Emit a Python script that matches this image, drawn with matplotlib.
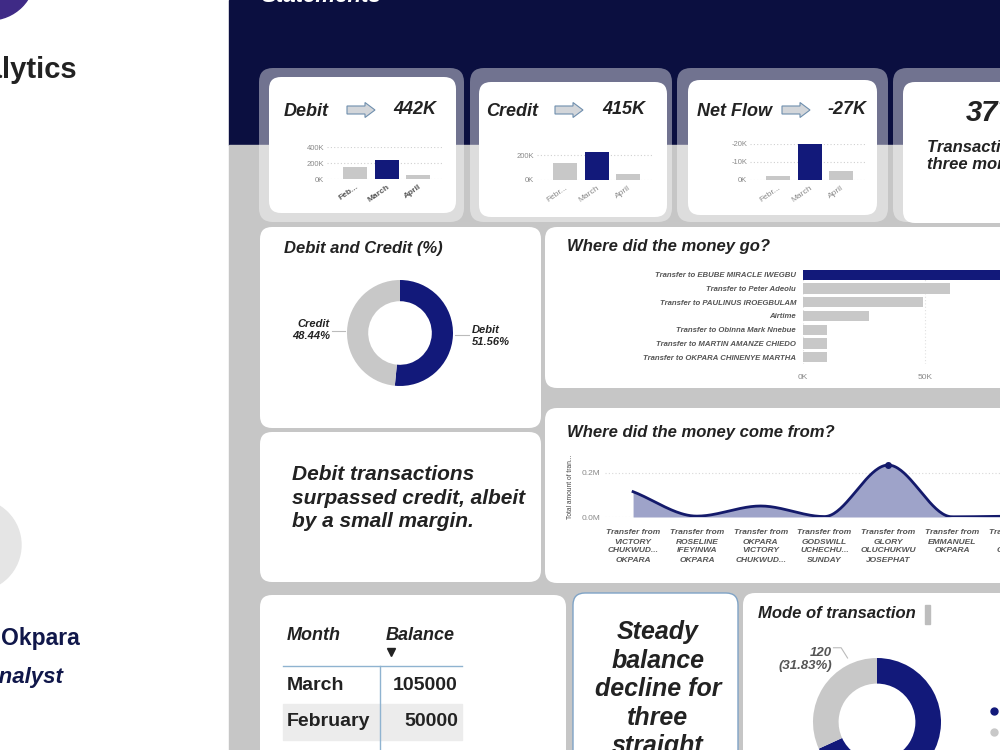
import numpy as np
import matplotlib.pyplot as plt
from matplotlib.patches import FancyBboxPatch, Rectangle, Circle, FancyArrow
from matplotlib.lines import Line2D
from matplotlib.ticker import FuncFormatter

plt.rcParams['font.family'] = ['Liberation Sans', 'DejaVu Sans']

NAVY = '#12197a'
BAND = '#0b0f40'
GREY_BAR = '#c8c8c8'
BG_GREY = '#c6c6c6'
TXT = '#222222'
TICK = '#8a8a8a'
LBL = '#555555'

# ---- data ----
months_debit = ['Feb...', 'March', 'April']
months_other = ['Febr...', 'March', 'April']
debit_by_month = [150000, 240000, 52000]
credit_by_month = [140000, 225000, 50000]
netflow_by_month = [-2000, -20000, -5000]
n_transactions = 377

dc_labels = ['Debit', 'Credit']
dc_pct = [51.56, 48.44]

out_labels = ['Transfer to EBUBE MIRACLE IWEGBU', 'Transfer to Peter Adeolu',
              'Transfer to PAULINUS IROEGBULAM', 'Airtime',
              'Transfer to Obinna Mark Nnebue', 'Transfer to MARTIN AMANZE CHIEDO',
              'Transfer to OKPARA CHINENYE MARTHA']
out_values = [100000, 60000, 49000, 27000, 10000, 10000, 10000]

in_labels = ['Transfer from\nVICTORY\nCHUKWUD...\nOKPARA',
             'Transfer from\nROSELINE\nIFEYINWA\nOKPARA',
             'Transfer from\nOKPARA\nVICTORY\nCHUKWUD...',
             'Transfer from\nGODSWILL\nUCHECHU...\nSUNDAY',
             'Transfer from\nGLORY\nOLUCHUKWU\nJOSEPHAT',
             'Transfer from\nEMMANUEL\nOKPARA',
             'Transfer from\nAMAKA\nCHUKWU']
in_values = [0.115, 0.004, 0.050, 0.002, 0.236, 0.001, 0.004]  # millions

balance_months = ['March', 'February']
balance_values = [105000, 50000]

mode_labels = ['Transfer', 'Others']
mode_counts = [257, 120]

W, H = 1000, 750
fig = plt.figure(figsize=(10, 7.5), dpi=100)
fig.patch.set_facecolor('white')

bg = fig.add_axes([0, 0, 1, 1])
bg.set_xlim(0, W)
bg.set_ylim(H, 0)
bg.axis('off')


def px_axes(x, y, w, h):
    ax = fig.add_axes([x / W, 1 - (y + h) / H, w / W, h / H])
    ax.set_facecolor('none')
    return ax


def card(x, y, w, h, fc='white', r=12, ec='none', lw=0, alpha=1):
    bg.add_patch(FancyBboxPatch((x, y), w, h, boxstyle=f"round,pad=0,rounding_size={r}",
                                fc=fc, ec=ec, lw=lw, alpha=alpha))


def kfmt(v, p):
    return f"{int(round(v / 1000))}K"


# ---- background ----
bg.add_patch(Rectangle((229, 0), 771, 145, color=BAND))
bg.add_patch(Rectangle((229, 145), 771, 605, color=BG_GREY))
bg.add_patch(Circle((-10, -25), 45, color='#3f2a86'))
bg.add_patch(Circle((-25, 545), 46, color='#e5e5e5'))
bg.text(77, 70, 'Analytics', ha='right', va='center', fontsize=21, fontweight='bold', color=TXT)
bg.text(80, 638, 'Chinenye Okpara', ha='right', va='center', fontsize=16.5, fontweight='bold', color='#10174a')
bg.text(63, 678, 'Data Analyst', ha='right', va='center', fontsize=16, fontweight='bold',
        style='italic', color='#10174a')
bg.text(262, -4, 'Statements', ha='left', va='center', fontsize=16, fontweight='bold',
        style='italic', color='white')

# ---- KPI row ----
for x0, w0 in [(259, 205), (470, 202), (677, 211), (893, 140)]:
    card(x0, 68, w0, 154, fc='white', r=14, alpha=0.42)
card(269, 77, 187, 136)
card(479, 82, 188, 135)
card(688, 80, 189, 135)
card(903, 82, 130, 141)

kpis = [('Debit', 284, 347, 393, sum(debit_by_month)),
        ('Credit', 486, 555, 602, sum(credit_by_month)),
        ('Net Flow', 697, 782, 827, sum(netflow_by_month))]
for name, tx, ax_, vx, val in kpis:
    bg.text(tx, 111, name, ha='left', va='center', fontsize=13, fontweight='bold', style='italic', color=TXT)
    bg.add_patch(FancyArrow(ax_, 110, 28, 0, width=8, head_width=15, head_length=10,
                            length_includes_head=True, fc='#d3d6da', ec='#6f8fae', lw=0.8))
    bg.text(vx, 110, f"{val / 1000:.0f}K", ha='left', va='center', fontsize=13,
            fontweight='bold', style='italic', color=TXT)


def mini_bars(left, top, h, vals, labels, ylim, yticks, bold):
    ax = px_axes(left, top, 116.5, h)
    colors = [NAVY if i == 1 else GREY_BAR for i in range(len(vals))]
    ax.bar(range(len(vals)), vals, width=0.76, color=colors, zorder=2)
    ax.set_xlim(-0.9, 2.8)
    ax.set_ylim(*ylim)
    ax.set_yticks(yticks)
    ax.yaxis.set_major_formatter(FuncFormatter(kfmt))
    ax.grid(axis='y', ls=(0, (1, 2)), color='#d0d0d0', lw=0.8, zorder=0)
    for s in ax.spines.values():
        s.set_visible(False)
    ax.tick_params(length=0, labelsize=5.5, colors=TICK, pad=2)
    ax.set_xticks(range(len(vals)))
    ax.set_xticklabels(labels, rotation=35, ha='right', rotation_mode='anchor', fontsize=6,
                       fontweight='bold' if bold else 'normal', color=LBL if bold else TICK)
    ax.tick_params(axis='x', pad=3)
    return ax


mini_bars(327, 147, 32, debit_by_month, months_debit, (0, 400000), [0, 200000, 400000], True)
mini_bars(537, 150, 30, credit_by_month, months_other, (0, 240000), [0, 200000], False)
mini_bars(750, 144, 36, netflow_by_month, months_other, (0, -20000), [0, -10000, -20000], False)

bg.text(966, 113, f"{n_transactions}", ha='left', va='center', fontsize=21, fontweight='bold',
        style='italic', color=TXT)
bg.text(927, 156, 'Transactions in\nthree months', ha='left', va='center', fontsize=12,
        fontweight='bold', style='italic', color=TXT, linespacing=1.2)

# ---- Debit and Credit donut ----
card(260, 227, 281, 201)
bg.text(284, 249, 'Debit and Credit (%)', ha='left', va='center', fontsize=12,
        fontweight='bold', style='italic', color=TXT)
R = 53
ax = px_axes(400 - R, 333 - R, 2 * R, 2 * R)
ax.pie(dc_pct, colors=[NAVY, GREY_BAR], startangle=90, counterclock=False, radius=1,
       wedgeprops=dict(width=0.4, edgecolor='none'))
ax.set_xlim(-1, 1)
ax.set_ylim(-1, 1)
ax.axis('off')
ax.text(1.36, -0.06, f"{dc_labels[0]}\n{dc_pct[0]:.2f}%", ha='left', va='center', fontsize=8,
        fontweight='bold', style='italic', color=TXT, clip_on=False)
ax.text(-1.32, 0.06, f"{dc_labels[1]}\n{dc_pct[1]:.2f}%", ha='right', va='center', fontsize=8,
        fontweight='bold', style='italic', color=TXT, clip_on=False)
ax.plot([1.03, 1.3], [-0.04, -0.04], color='#bbbbbb', lw=0.8, clip_on=False)
ax.plot([-1.03, -1.28], [0.04, 0.04], color='#bbbbbb', lw=0.8, clip_on=False)

# ---- Where did the money go ----
card(545, 227, 480, 161)
bg.text(567, 247, 'Where did the money go?', ha='left', va='center', fontsize=12,
        fontweight='bold', style='italic', color=TXT)
ax = px_axes(803, 268, 367, 96)
ypos = np.arange(len(out_values))
ax.barh(ypos, out_values, height=0.74, color=[NAVY] + [GREY_BAR] * (len(out_values) - 1), zorder=2)
ax.set_ylim(len(out_values) - 0.5, -0.5)
ax.set_xlim(0, 150000)
ax.set_xticks([0, 50000, 100000, 150000])
ax.xaxis.set_major_formatter(FuncFormatter(kfmt))
ax.set_yticks(ypos)
ax.set_yticklabels(out_labels, fontsize=5.6, fontweight='bold', style='italic', color=LBL)
ax.grid(axis='x', ls=(0, (1, 2)), color='#e0e0e0', lw=0.8, zorder=0)
for s in ax.spines.values():
    s.set_visible(False)
ax.tick_params(axis='y', length=0, pad=5)
ax.tick_params(axis='x', length=0, labelsize=6, colors=TICK, pad=7)

# ---- Text card ----
card(260, 432, 281, 150)
bg.text(292, 498, 'Debit transactions\nsurpassed credit, albeit\nby a small margin.', ha='left',
        va='center', fontsize=15, fontweight='bold', style='italic', color=TXT, linespacing=1.32)

# ---- Where did the money come from ----
card(545, 408, 480, 175)
bg.text(567, 433, 'Where did the money come from?', ha='left', va='center', fontsize=12,
        fontweight='bold', style='italic', color=TXT)
bg.text(571, 487, 'Total amount of tran...', rotation=90, ha='center', va='center', fontsize=4.8,
        color='#444444')


def smooth_curve(xs, ys, n=40):
    # monotone cubic rendering of the series (like a "smoothed" line)
    xs = np.asarray(xs, float)
    ys = np.asarray(ys, float)
    d = np.diff(ys) / np.diff(xs)
    m = np.zeros(len(ys))
    for i in range(1, len(ys) - 1):
        if d[i - 1] * d[i] > 0:
            m[i] = 2 / (1 / d[i - 1] + 1 / d[i])
    m[0], m[-1] = d[0], d[-1]
    px, py = [], []
    for i in range(len(xs) - 1):
        h = xs[i + 1] - xs[i]
        t = np.linspace(0, 1, n, endpoint=False)
        h00 = 2 * t**3 - 3 * t**2 + 1
        h10 = t**3 - 2 * t**2 + t
        h01 = -2 * t**3 + 3 * t**2
        h11 = t**3 - t**2
        px.append(xs[i] + t * h)
        py.append(h00 * ys[i] + h10 * h * m[i] + h01 * ys[i + 1] + h11 * h * m[i + 1])
    px.append([xs[-1]])
    py.append([ys[-1]])
    return np.concatenate(px), np.clip(np.concatenate(py), 0, None)


ax = px_axes(605, 460, 495, 57)
xi = np.arange(len(in_values))
cx, cy = smooth_curve(xi, in_values)
ax.fill_between(cx, 0, cy, color='#9ea3c9', lw=0, zorder=2)
ax.plot(cx, cy, color='#141a6b', lw=2, zorder=3)
imax = int(np.argmax(in_values))
ax.plot(xi[imax], in_values[imax], 'o', color='#141a6b', ms=4, zorder=4)
ax.set_xlim(-0.44, 7.32)
ax.set_ylim(0, 0.259)
ax.set_yticks([0, 0.2])
ax.yaxis.set_major_formatter(FuncFormatter(lambda v, p: f"{v:.1f}M"))
ax.set_xticks(xi)
ax.set_xticklabels(in_labels, fontsize=6, fontweight='bold', style='italic', color=LBL,
                   linespacing=1.4, va='top')
ax.grid(axis='y', ls=(0, (1, 2)), color='#d8d8d8', lw=0.8, zorder=0)
for s in ax.spines.values():
    s.set_visible(False)
ax.tick_params(axis='y', length=0, labelsize=6, colors=TICK, pad=3)
ax.tick_params(axis='x', length=0, pad=9)

# ---- Balance table ----
card(260, 595, 306, 180)
bg.text(287, 635, 'Month', ha='left', va='center', fontsize=13, fontweight='bold', style='italic', color=TXT)
bg.text(386, 635, 'Balance', ha='left', va='center', fontsize=13, fontweight='bold', style='italic', color=TXT)
bg.plot([391], [652], marker='v', ms=6, color='#222222')
bg.plot([283, 462], [666, 666], color='#8fb3d0', lw=1)
row_y = [685, 721]
for i, (mname, bval) in enumerate(zip(balance_months, balance_values)):
    if i % 2 == 1:
        bg.add_patch(Rectangle((283, row_y[i] - 17), 179, 36, color='#ececec', zorder=1))
    bg.text(287, row_y[i], mname, ha='left', va='center', fontsize=14, fontweight='bold', color=TXT, zorder=3)
    bg.text(458, row_y[i], f"{bval}", ha='right', va='center', fontsize=14, fontweight='bold', color=TXT, zorder=3)
bg.plot([380, 380], [666, 760], color='#8fb3d0', lw=1, zorder=2)

# ---- Steady card ----
card(573, 593, 165, 180, ec='#7fa3c6', lw=1)
bg.text(658, 620, 'Steady\nbalance\ndecline for\nthree\nstraight\nmonths.', ha='center', va='top',
        fontsize=18, fontweight='bold', style='italic', color=TXT, linespacing=1.24)

# ---- Mode of transaction ----
card(743, 593, 300, 180)
bg.text(758, 614, 'Mode of transaction', ha='left', va='center', fontsize=12,
        fontweight='bold', style='italic', color=TXT)
bg.add_patch(Rectangle((925, 605), 5, 19, color='#bdbdbd'))
R2 = 64
ax = px_axes(877 - R2, 722 - R2, 2 * R2, 2 * R2)
wedges, _ = ax.pie(mode_counts, colors=[NAVY, GREY_BAR], startangle=90, counterclock=False,
                   radius=1, wedgeprops=dict(width=0.4, edgecolor='none'))
ax.set_xlim(-1, 1)
ax.set_ylim(-1, 1)
ax.axis('off')
share = mode_counts[1] / sum(mode_counts) * 100
ax.text(-0.70, 0.98, f"{mode_counts[1]}\n({share:.2f}%)", ha='right', va='center', fontsize=9.5,
        fontweight='bold', style='italic', color='#555555', clip_on=False, linespacing=1.1)
ax.plot([-0.68, -0.56, -0.46], [1.16, 1.16, 1.0], color='#bbbbbb', lw=0.8, clip_on=False)
handles = [Line2D([], [], marker='o', ls='none', color=c, ms=5) for c in [NAVY, GREY_BAR]]
bg.legend(handles, mode_labels, loc='upper left', bbox_to_anchor=(981, 706),
          bbox_transform=bg.transData, frameon=False, fontsize=9, handletextpad=1.2,
          labelspacing=0.75, borderaxespad=0, borderpad=0)

fig.savefig('out.png', dpi=100)
